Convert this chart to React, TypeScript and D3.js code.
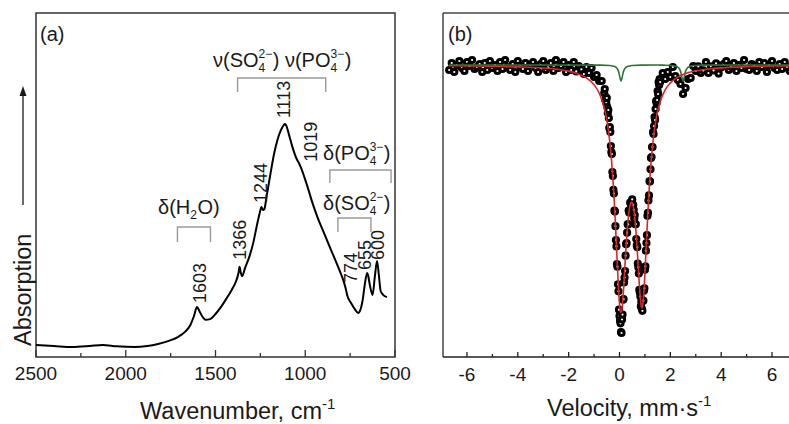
import React from "react";
import * as d3 from "d3";

// ---------- (a) FTIR spectrum ----------
const IR_WAVENUMBER = [
  2500, 2400, 2300, 2200, 2130, 2050, 1950, 1880, 1820, 1760, 1710, 1670, 1640, 1620,
  1603, 1590, 1575, 1555, 1530, 1500, 1470, 1440, 1410, 1385, 1372, 1366, 1360, 1352,
  1335, 1310, 1290, 1270, 1255, 1244, 1236, 1228, 1215, 1195, 1175, 1155, 1135, 1120,
  1113, 1105, 1090, 1070, 1050, 1030, 1019, 1005, 985, 960, 930, 900, 870, 840, 810,
  785, 774, 765, 745, 725, 705, 695, 680, 668, 655, 650, 640, 625, 612, 600, 590, 580,
  565, 545,
];
const IR_ABSORBANCE = [
  0.035, 0.032, 0.029, 0.032, 0.035, 0.031, 0.029, 0.032, 0.038, 0.047, 0.058, 0.073, 0.093, 0.119,
  0.145, 0.134, 0.119, 0.108, 0.110, 0.125, 0.145, 0.169, 0.195, 0.221, 0.244, 0.262, 0.247, 0.235,
  0.259, 0.294, 0.331, 0.381, 0.416, 0.436, 0.427, 0.430, 0.468, 0.529, 0.587, 0.631, 0.660, 0.674,
  0.677, 0.672, 0.645, 0.608, 0.578, 0.558, 0.544, 0.523, 0.491, 0.448, 0.404, 0.366, 0.328, 0.291, 0.253,
  0.218, 0.198, 0.177, 0.157, 0.140, 0.128, 0.134, 0.166, 0.212, 0.244, 0.238, 0.209, 0.180, 0.235, 0.279, 0.238, 0.192,
  0.180, 0.174,
];
const IR_PEAKS = [1603, 1366, 1244, 1113, 1019, 774, 655, 600];
const IR_TICKS = [2500, 2000, 1500, 1000, 500];
const IR_MINOR_TICKS = [2250, 1750, 1250, 750];

// ---------- (b) Mössbauer spectrum ----------
const MB_VELOCITY = [
  -6.7, -6.6, -6.5, -6.4, -6.3, -6.2, -6.1, -6.0, -5.9, -5.8,
  -5.7, -5.6, -5.5, -5.4, -5.3, -5.2, -5.1, -5.0, -4.9, -4.8,
  -4.7, -4.6, -4.5, -4.4, -4.3, -4.2, -4.1, -4.0, -3.9, -3.8,
  -3.7, -3.6, -3.5, -3.4, -3.3, -3.2, -3.1, -3.0, -2.9, -2.8,
  -2.7, -2.6, -2.5, -2.4, -2.3, -2.2, -2.1, -2.0, -1.9, -1.8,
  -1.7, -1.6, -1.5, -1.4, -1.3, -1.2, -1.1, -1.0, -0.9, -0.8,
  -0.7,
  -0.6, -0.58, -0.56, -0.54, -0.52, -0.5, -0.48, -0.46, -0.44, -0.42,
  -0.4, -0.38, -0.36, -0.34, -0.32, -0.3, -0.28, -0.26, -0.24, -0.22,
  -0.2, -0.18, -0.16, -0.14, -0.12, -0.1, -0.08, -0.06, -0.04, -0.02,
  0.0, 0.02, 0.04, 0.06, 0.08, 0.1, 0.12, 0.14, 0.16, 0.18,
  0.2, 0.22, 0.24, 0.26, 0.28, 0.3, 0.32, 0.34, 0.36, 0.38,
  0.4, 0.42, 0.44, 0.46, 0.48, 0.5, 0.52, 0.54, 0.56, 0.58,
  0.6, 0.62, 0.64, 0.66, 0.68, 0.7, 0.72, 0.74, 0.76, 0.78,
  0.8, 0.82, 0.84, 0.86, 0.88, 0.9, 0.92, 0.94, 0.96, 0.98,
  1.0, 1.02, 1.04, 1.06, 1.08, 1.1, 1.12, 1.14, 1.16, 1.18,
  1.2, 1.22, 1.24, 1.26, 1.28, 1.3, 1.32, 1.34, 1.36, 1.38,
  1.4, 1.42, 1.44, 1.46, 1.48, 1.5, 1.52, 1.54, 1.56, 1.58,
  1.6,
  1.7, 1.8, 1.9, 2.0, 2.1, 2.2, 2.3, 2.4, 2.5, 2.6,
  2.7, 2.8, 2.9, 3.0, 3.1, 3.2, 3.3, 3.4, 3.5, 3.6,
  3.7, 3.8, 3.9, 4.0, 4.1, 4.2, 4.3, 4.4, 4.5, 4.6,
  4.7, 4.8, 4.9, 5.0, 5.1, 5.2, 5.3, 5.4, 5.5, 5.6,
  5.7, 5.8, 5.9, 6.0, 6.1, 6.2, 6.3, 6.4, 6.5, 6.6,
  6.7,
];
const MB_TRANSMISSION = [
  0.9965, 1.0014, 0.9951, 1.0, 1.0028, 0.9979, 0.9958, 1.0021, 0.9993, 1.0035,
  0.9972, 0.9986, 1.0007, 0.9951, 1.0014, 0.9965, 1.0028, 0.9979, 1.0, 0.9958,
  1.0021, 0.9972, 1.0035, 0.9986, 0.9965, 1.0007, 0.9951, 1.0028, 0.9993, 0.9972,
  1.0014, 0.9958, 1.0, 1.0021, 0.9979, 0.9951, 1.0007, 1.0028, 0.9965, 0.9986,
  1.0014, 0.9958, 1.0035, 0.9979, 0.9993, 1.0021, 0.9951, 1.0, 0.9965, 1.0021,
  0.9955, 0.9993, 0.9969, 0.9937, 0.9986, 0.9944, 0.9979, 0.9916, 0.993, 0.9888,
  0.9888,
  0.9804, 0.9832, 0.9755, 0.9776, 0.9734, 0.9769, 0.9706, 0.9664, 0.9685, 0.9629,
  0.9559, 0.9566, 0.9531, 0.9433, 0.9391, 0.9377, 0.9251, 0.9223, 0.9126, 0.91,
  0.898, 0.8974, 0.8872, 0.8775, 0.873, 0.8606, 0.8588, 0.8465, 0.8416, 0.8287,
  0.8243, 0.8209, 0.8192, 0.813, 0.8124, 0.8219, 0.8253, 0.8357, 0.8361, 0.8478,
  0.8512, 0.8558, 0.8665, 0.8746, 0.8753, 0.8826, 0.8885, 0.8884, 0.8981, 0.8967,
  0.8977, 0.9036, 0.8992, 0.9041, 0.9021, 0.9059, 0.8993, 0.9021, 0.8986, 0.8926,
  0.895, 0.8886, 0.8886, 0.8782, 0.8737, 0.8725, 0.861, 0.8585, 0.854, 0.8426,
  0.841, 0.8379, 0.831, 0.8343, 0.8293, 0.8279, 0.8349, 0.835, 0.842, 0.8437,
  0.8566, 0.859, 0.87, 0.8754, 0.8809, 0.8944, 0.8965, 0.9052, 0.9087, 0.9186,
  0.9185, 0.927, 0.9349, 0.9356, 0.9426, 0.9426, 0.9531, 0.9517, 0.9573, 0.9636,
  0.9615, 0.9692, 0.9748, 0.9734, 0.9755, 0.9818, 0.9797, 0.9881, 0.986, 0.9902,
  0.9881,
  0.9944, 0.9902, 0.9951, 0.9916, 0.9986, 0.9923, 0.9895, 0.9867, 0.9797, 0.9839,
  0.9902, 0.9909, 0.9993, 0.9958, 0.999, 0.9944, 0.9962, 1.0021, 0.9944, 0.999,
  0.9962, 1.0011, 0.994, 0.9982, 1.0007, 1.0028, 0.9965, 0.9986, 1.0014, 0.9958,
  1.0, 0.9979, 1.0035, 0.9972, 0.9965, 1.0007, 0.9993, 0.9958, 1.0021, 0.9986,
  1.0014, 0.9951, 1.0, 1.0028, 0.9979, 0.9965, 1.0007, 0.9972, 1.0021, 0.9986,
  0.9958,
];

// Fitted main doublet (red)
const FIT_MAIN_V = [
  -6.7, -5.0, -4.0, -3.0, -2.5, -2.0, -1.6, -1.3, -1.0, -0.8,
  -0.6, -0.56, -0.52, -0.48, -0.44, -0.4, -0.36, -0.32, -0.28, -0.24,
  -0.2, -0.16, -0.12, -0.08, -0.04, 0.0, 0.04, 0.08, 0.12, 0.16,
  0.2, 0.24, 0.28, 0.32, 0.36, 0.4, 0.44, 0.48, 0.52, 0.56,
  0.6, 0.64, 0.68, 0.72, 0.76, 0.8, 0.84, 0.88, 0.92, 0.96,
  1.0, 1.04, 1.08, 1.12, 1.16, 1.2, 1.24, 1.28, 1.32, 1.36,
  1.4, 1.44, 1.48, 1.6, 1.8, 2.0, 2.3, 2.6, 3.0, 3.5,
  4.0, 5.0, 6.7, 7.0,
];
const FIT_MAIN_T = [
  0.9995, 0.9992, 0.9987, 0.9979, 0.9971, 0.9957, 0.9936, 0.991, 0.9862, 0.9804,
  0.97, 0.967, 0.9635, 0.9593, 0.9546, 0.9489, 0.9423, 0.9346, 0.9255, 0.9148,
  0.9025, 0.8886, 0.8734, 0.858, 0.8438, 0.8328, 0.827, 0.8272, 0.8331, 0.8432,
  0.8553, 0.8676, 0.8788, 0.8881, 0.8954, 0.9003, 0.9032, 0.9039, 0.9025, 0.8989,
  0.8931, 0.8853, 0.8753, 0.8639, 0.852, 0.8411, 0.8331, 0.83, 0.8329, 0.8414,
  0.8539, 0.8687, 0.8837, 0.8979, 0.9108, 0.922, 0.9316, 0.9399, 0.9468, 0.9528,
  0.9578, 0.9621, 0.9659, 0.9743, 0.9828, 0.9875, 0.9917, 0.9941, 0.9959, 0.9972,
  0.998, 0.9988, 0.9994, 0.9995,
];

// Fitted minor doublet (green)
const FIT_MINOR_V = [
  -6.7, -0.74, -0.39, -0.24, -0.16, -0.1, -0.06, -0.02, 0.02, 0.06,
  0.1, 0.14, 0.18, 0.22, 0.28, 0.36, 0.51, 0.86, 1.5, 1.7,
  2.05, 2.2, 2.28, 2.34, 2.38, 2.42, 2.46, 2.5, 2.54, 2.58,
  2.62, 2.66, 2.72, 2.8, 2.95, 3.3, 7.0,
];
const FIT_MINOR_T = [
  1.0, 0.9999, 0.9997, 0.9992, 0.9987, 0.9978, 0.9966, 0.9944, 0.991, 0.9888,
  0.991, 0.9944, 0.9966, 0.9978, 0.9987, 0.9992, 0.9997, 0.9999, 1.0, 0.9999,
  0.9997, 0.9992, 0.9987, 0.9978, 0.9966, 0.9944, 0.991, 0.9888, 0.991, 0.9944,
  0.9966, 0.9978, 0.9987, 0.9992, 0.9997, 0.9999, 1.0,
];
const MB_TICKS = [-6, -4, -2, 0, 2, 4, 6];
const MB_MINOR_TICKS = [-5, -3, -1, 1, 3, 5];

const FONT = "'Liberation Sans', Arial, Helvetica, sans-serif";
const INK = "#1a1a1a";
const BRACKET = "#9a9a9a";

// Advance widths (em) of the glyphs used in the band labels (Arial metrics)
const GLYPH_EM: Record<string, number> = {
  "ν": 0.5, "δ": 0.556, "(": 0.333, ")": 0.333, S: 0.667, O: 0.778, P: 0.667,
  H: 0.722, " ": 0.278, "−": 0.584, "-": 0.333,
};
const textWidth = (s: string, size: number) =>
  [...s].reduce((w, c) => w + (GLYPH_EM[c] ?? 0.556), 0) * size;

type Seg = { t?: string; sup?: string; sub?: string; subDy?: number };

// A formula label: plain runs plus stacked super/subscripts, each as its own text
function Formula({ x, y, segs, size = 20, small = 12 }: { x: number; y: number; segs: Seg[]; size?: number; small?: number }) {
  let cx = x;
  const out: React.ReactNode[] = [];
  segs.forEach((s, i) => {
    if (s.t !== undefined) {
      out.push(
        <text key={i} x={cx} y={y} fontSize={size} fill={INK}>
          {s.t}
        </text>
      );
      cx += textWidth(s.t, size);
    } else {
      let w = 0;
      if (s.sup) {
        out.push(
          <text key={`${i}u`} x={cx} y={y - 9} fontSize={small} fill={INK}>
            {s.sup}
          </text>
        );
        w = Math.max(w, textWidth(s.sup, small));
      }
      if (s.sub) {
        out.push(
          <text key={`${i}d`} x={cx} y={y + (s.subDy ?? 5)} fontSize={small} fill={INK}>
            {s.sub}
          </text>
        );
        w = Math.max(w, textWidth(s.sub, small));
      }
      cx += w + 0.5;
    }
  });
  return <g>{out}</g>;
}

function Bracket({ x1, x2, y, leg }: { x1: number; x2: number; y: number; leg: number }) {
  return (
    <path
      d={`M${x1},${y + leg}V${y}H${x2}V${y + leg}`}
      fill="none"
      stroke={BRACKET}
      strokeWidth={1.4}
    />
  );
}

export default function App() {
  // panel (a)
  const xA = d3.scaleLinear().domain([2500, 500]).range([36, 395]);
  const yA = d3.scaleLinear().domain([0, 1]).range([357, 13]);
  const irLine = d3
    .line<number>()
    .x((_, i) => xA(IR_WAVENUMBER[i]))
    .y((d) => yA(d))
    .curve(d3.curveMonotoneX);

  // label offsets from each peak: [dx, gap above the curve]
  const peakNudge: Record<number, [number, number]> = {
    1603: [2.5, 4],
    1366: [0, 7],
    1244: [-1, 4],
    1113: [-1, 6],
    1019: [8.5, 8],
    774: [4.5, 6],
    655: [-3, 3],
    600: [1, 1],
  };

  // panel (b)
  const xB = d3.scaleLinear().domain([-7, 7]).range([441.56, 797.44]);
  const yB = d3.scaleLinear().domain([0.7956, 1.0364]).range([357, 13]);
  const fitLine = (vs: number[]) =>
    d3
      .line<number>()
      .x((_, i) => xB(vs[i]))
      .y((d) => yB(d))
      .curve(d3.curveMonotoneX);

  return (
    <div style={{ position: "absolute", left: 0, top: 0 }}>
      <svg width={789} height={424} style={{ display: "block", background: "#fff" }} fontFamily={FONT}>
        {/* ---------- panel (a) ---------- */}
        <rect x={36} y={13} width={359} height={344} fill="none" stroke="#333" strokeWidth={1.5} />
        {IR_TICKS.map((t) => (
          <g key={`ta${t}`}>
            <line x1={xA(t)} x2={xA(t)} y1={357} y2={350} stroke="#333" strokeWidth={1.3} />
            <text x={xA(t)} y={380} fontSize={19} textAnchor="middle" fill={INK}>
              {t}
            </text>
          </g>
        ))}
        {IR_MINOR_TICKS.map((t) => (
          <line key={`tma${t}`} x1={xA(t)} x2={xA(t)} y1={357} y2={353} stroke="#333" strokeWidth={1.3} />
        ))}
        <path d={irLine(IR_ABSORBANCE) ?? ""} fill="none" stroke="#000" strokeWidth={2} strokeLinejoin="round" />

        {IR_PEAKS.map((p) => {
          const i = IR_WAVENUMBER.indexOf(p);
          const [dx, gap] = peakNudge[p];
          const x = xA(p) + dx + 6.4;
          const y = yA(IR_ABSORBANCE[i]) - gap;
          return (
            <text key={`pk${p}`} transform={`translate(${x},${y}) rotate(-90)`} fontSize={18} fill={INK}>
              {String(p)}
            </text>
          );
        })}

        <text x={40} y={41} fontSize={20} fill={INK}>(a)</text>

        {/* band assignments */}
        <Formula x={158} y={214} segs={[{ t: "δ(H" }, { sub: "2", subDy: 5 }, { t: "O)" }]} />
        <Bracket x1={xA(1712)} x2={xA(1528)} y={227} leg={15} />

        <Formula
          x={213}
          y={67}
          segs={[{ t: "ν(SO" }, { sup: "2−", sub: "4" }, { t: ") ν(PO" }, { sup: "3−", sub: "4" }, { t: ")" }]}
        />
        <Bracket x1={xA(1377)} x2={xA(886)} y={78} leg={14} />

        <Formula x={323} y={160} segs={[{ t: "δ(PO" }, { sup: "3−", sub: "4" }, { t: ")" }]} />
        <Bracket x1={xA(863)} x2={xA(522)} y={170} leg={13} />

        <Formula x={323} y={210} segs={[{ t: "δ(SO" }, { sup: "2−", sub: "4" }, { t: ")" }]} />
        <Bracket x1={xA(818)} x2={xA(634)} y={218} leg={14} />

        {/* y title with arrow */}
        <text transform="translate(30.5,346) rotate(-90)" fontSize={23.5} fill={INK}>
          Absorption
        </text>
        <line x1={23} x2={23} y1={205} y2={94} stroke={INK} strokeWidth={1.3} />
        <path d="M23,86 L19.5,96 L26.5,96 Z" fill={INK} />

        <text x={140} y={418.5} fontSize={23.5} fill={INK}>
          Wavenumber, cm<tspan fontSize={15} dy={-10}>-1</tspan>
        </text>

        {/* ---------- panel (b) ---------- */}
        <line x1={443} x2={443} y1={13} y2={357} stroke="#444" strokeWidth={1.5} />
        <line x1={443} x2={789} y1={13} y2={13} stroke="#444" strokeWidth={1.5} />
        <line x1={443} x2={789} y1={357} y2={357} stroke="#222" strokeWidth={1.5} />
        {MB_TICKS.map((t) => (
          <g key={`tb${t}`}>
            <line x1={xB(t)} x2={xB(t)} y1={357} y2={352} stroke="#222" strokeWidth={1.3} />
            <text x={xB(t)} y={381} fontSize={19} textAnchor="middle" fill={INK}>
              {t < 0 ? `-${Math.abs(t)}` : String(t)}
            </text>
          </g>
        ))}
        {MB_MINOR_TICKS.map((t) => (
          <line key={`tmb${t}`} x1={xB(t)} x2={xB(t)} y1={357} y2={354} stroke="#222" strokeWidth={1.3} />
        ))}

        <g>
          {MB_TRANSMISSION.map((t, i) => (
            <circle
              key={`pt${i}`}
              cx={xB(MB_VELOCITY[i])}
              cy={yB(t)}
              r={2.6}
              fill="#fff"
              stroke="#000"
              strokeWidth={3}
            />
          ))}
        </g>
        <path d={fitLine(FIT_MINOR_V)(FIT_MINOR_T) ?? ""} fill="none" stroke="#2f7333" strokeWidth={1.6} />
        <path d={fitLine(FIT_MAIN_V)(FIT_MAIN_T) ?? ""} fill="none" stroke="#d8262c" strokeWidth={1.6} />

        <text x={448} y={41} fontSize={20} fill={INK}>(b)</text>
        <text x={547} y={416} fontSize={23.5} fill={INK}>
          Velocity, mm·s<tspan fontSize={15} dy={-10}>-1</tspan>
        </text>
      </svg>
    </div>
  );
}
